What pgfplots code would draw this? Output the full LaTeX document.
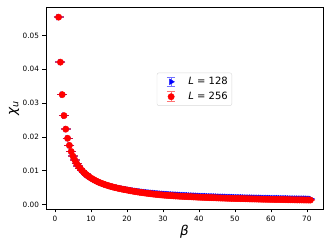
\documentclass[border=0pt]{standalone}
\usepackage{fontspec}
\setmainfont{DejaVu Sans}
\usepackage{pgfplots}
\usepackage{pgfplotstable}
\pgfplotsset{compat=1.18}
\pgfplotstableread{
b r u
1 0.0554 0.0554
1.5 0.0421 0.0421
2 0.0325 0.0325
2.5 0.0263 0.0263
3 0.0223 0.0223
3.5 0.0196 0.0196
4 0.0175 0.0175
4.5 0.0157 0.0157
5 0.0143 0.0143
5.5 0.0132 0.0132
6 0.0122 0.0122
6.5 0.0114 0.0114
7 0.0107 0.0107
7.5 0.0101 0.0101
8 0.00952 0.00955
8.5 0.00904 0.00907
9 0.00860 0.00864
9.5 0.00821 0.00825
10 0.00784 0.00789
10.5 0.00753 0.00759
11 0.00723 0.00730
11.5 0.00696 0.00704
12 0.00670 0.00678
12.5 0.00647 0.00656
13 0.00626 0.00635
13.5 0.00606 0.00616
14 0.00587 0.00598
14.5 0.00570 0.00582
15 0.00553 0.00563
15.5 0.00538 0.00549
16 0.00523 0.00535
16.5 0.00509 0.00522
17 0.00496 0.00510
17.5 0.00484 0.00499
18 0.00472 0.00488
18.5 0.00461 0.00478
19 0.00450 0.00468
19.5 0.00440 0.00459
20 0.00431 0.00451
20.5 0.00421 0.00442
21 0.00410 0.00432
21.5 0.00401 0.00424
22 0.00391 0.00415
22.5 0.00382 0.00407
23 0.00374 0.00400
23.5 0.00366 0.00393
24 0.00358 0.00386
24.5 0.00350 0.00379
25 0.00343 0.00373
25.5 0.00336 0.00367
26 0.00329 0.00361
26.5 0.00322 0.00355
27 0.00316 0.00350
27.5 0.00310 0.00345
28 0.00304 0.00340
28.5 0.00298 0.00335
29 0.00292 0.00330
29.5 0.00287 0.00326
30 0.00282 0.00322
30.5 0.00278 0.00318
31 0.00274 0.00314
31.5 0.00271 0.00311
32 0.00267 0.00307
32.5 0.00263 0.00303
33 0.00259 0.00299
33.5 0.00256 0.00296
34 0.00253 0.00293
34.5 0.00249 0.00289
35 0.00246 0.00286
35.5 0.00244 0.00284
36 0.00241 0.00281
36.5 0.00238 0.00278
37 0.00235 0.00275
37.5 0.00233 0.00273
38 0.00230 0.00270
38.5 0.00227 0.00267
39 0.00225 0.00265
39.5 0.00222 0.00262
40 0.00219 0.00259
40.5 0.00217 0.00257
41 0.00215 0.00255
41.5 0.00213 0.00253
42 0.00211 0.00251
42.5 0.00208 0.00248
43 0.00206 0.00246
43.5 0.00205 0.00245
44 0.00203 0.00243
44.5 0.00201 0.00241
45 0.00199 0.00239
45.5 0.00197 0.00237
46 0.00195 0.00235
46.5 0.00193 0.00233
47 0.00192 0.00232
47.5 0.00190 0.00230
48 0.00188 0.00228
48.5 0.00186 0.00226
49 0.00185 0.00225
49.5 0.00183 0.00223
50 0.00181 0.00221
50.5 0.00179 0.00219
51 0.00179 0.00219
51.5 0.00177 0.00217
52 0.00176 0.00216
52.5 0.00174 0.00214
53 0.00172 0.00212
53.5 0.00171 0.00211
54 0.00169 0.00209
54.5 0.00168 0.00208
55 0.00167 0.00207
55.5 0.00166 0.00206
56 0.00165 0.00205
56.5 0.00163 0.00203
57 0.00162 0.00202
57.5 0.00160 0.00200
58 0.00159 0.00199
58.5 0.00158 0.00198
59 0.00157 0.00197
59.5 0.00156 0.00196
60 0.00155 0.00195
60.5 0.00153 0.00193
61 0.00153 0.00193
61.5 0.00152 0.00192
62 0.00151 0.00191
62.5 0.00150 0.00190
63 0.00149 0.00189
63.5 0.00148 0.00188
64 0.00147 0.00187
64.5 0.00145 0.00185
65 0.00144 0.00184
65.5 0.00143 0.00183
66 0.00142 0.00182
66.5 0.00141 0.00181
67 0.00140 0.00180
67.5 0.00140 0.00180
68 0.00139 0.00179
68.5 0.00139 0.00179
69 0.00138 0.00178
69.5 0.00137 0.00177
70 0.00136 0.00176
70.5 0.00135 0.00175
71 0.00134 0.00174
}\data
\begin{document}
\begin{tikzpicture}
\path[use as bounding box] (0,0) rectangle (332pt,249pt);
\begin{axis}[
  at={(46pt,40pt)}, anchor=south west,
  width=277pt, height=202pt, scale only axis,
  xmin=-2.5, xmax=74.5, ymin=-0.0013, ymax=0.0584,
  xtick={0,10,20,30,40,50,60,70},
  ytick={0,0.01,0.02,0.03,0.04,0.05},
  scaled y ticks=false,
  yticklabel style={/pgf/number format/.cd, fixed, fixed zerofill, precision=2},
  /pgf/number format/assume math mode=true,
  tick label style={font=\fontsize{7.3}{8.5}\selectfont},
  tick align=outside, xtick pos=bottom, ytick pos=left,
  major tick length=3.5pt,
  every tick/.style={black, line width=0.6pt},
  axis line style={line width=0.6pt},
  xlabel={\textit{β}}, ylabel={\textit{χ}\textsubscript{\textit{u}}},
  every axis x label/.style={at={(axis description cs:0.5,0)}, anchor=center, yshift=-23pt, font=\fontsize{13.5}{15}\selectfont},
  every axis y label/.style={at={(axis description cs:0,0.5)}, xshift=-32pt, anchor=center, rotate=90, font=\fontsize{13.5}{15}\selectfont},
  legend style={at={(axis description cs:0.40,0.675)}, anchor=north west, draw=black!15, rounded corners=2pt, font=\fontsize{10}{12}\selectfont, row sep=2pt, inner xsep=2pt, inner ysep=2.5pt},
  legend cell align=left,
]
\addplot[only marks, blue, mark=triangle*, mark size=3.3pt, mark options={rotate=-90},
  legend image code/.code={
  \path (0cm,0cm) (0.95cm,0cm);
  \draw[blue!55, line width=0.9pt, mark=none] (0.42cm,-0.17cm) -- (0.42cm,0.17cm) (0.27cm,-0.17cm) -- (0.57cm,-0.17cm) (0.27cm,0.17cm) -- (0.57cm,0.17cm);
  \draw[blue, mark=triangle*, mark size=3.3pt, mark options={rotate=-90}] plot coordinates {(0.42cm,0cm)};},
  error bars/.cd, y dir=both, y fixed=0.00008,
  error bar style={line width=0.9pt, opacity=0.5}, error mark options={rotate=90, mark size=5pt, line width=0.9pt, opacity=0.5},
  ] table[x=b, y=u] {\data};
\addlegendentry{\textit{L} = 128}
\addplot[only marks, red, mark=*, mark size=3.2pt,
  legend image code/.code={
  \path (0cm,0cm) (0.95cm,0cm);
  \draw[red!55, line width=0.9pt, mark=none] (0.42cm,-0.17cm) -- (0.42cm,0.17cm) (0.27cm,-0.17cm) -- (0.57cm,-0.17cm) (0.27cm,0.17cm) -- (0.57cm,0.17cm);
  \draw[red, mark=*, mark size=3.2pt] plot coordinates {(0.42cm,0cm)};},
  error bars/.cd, y dir=both, y fixed=0.00008,
  error bar style={line width=0.9pt, opacity=0.5}, error mark options={rotate=90, mark size=5pt, line width=0.9pt, opacity=0.5},
  ] table[x=b, y=r] {\data};
\addlegendentry{\textit{L} = 256}
\end{axis}
\end{tikzpicture}
\end{document}
